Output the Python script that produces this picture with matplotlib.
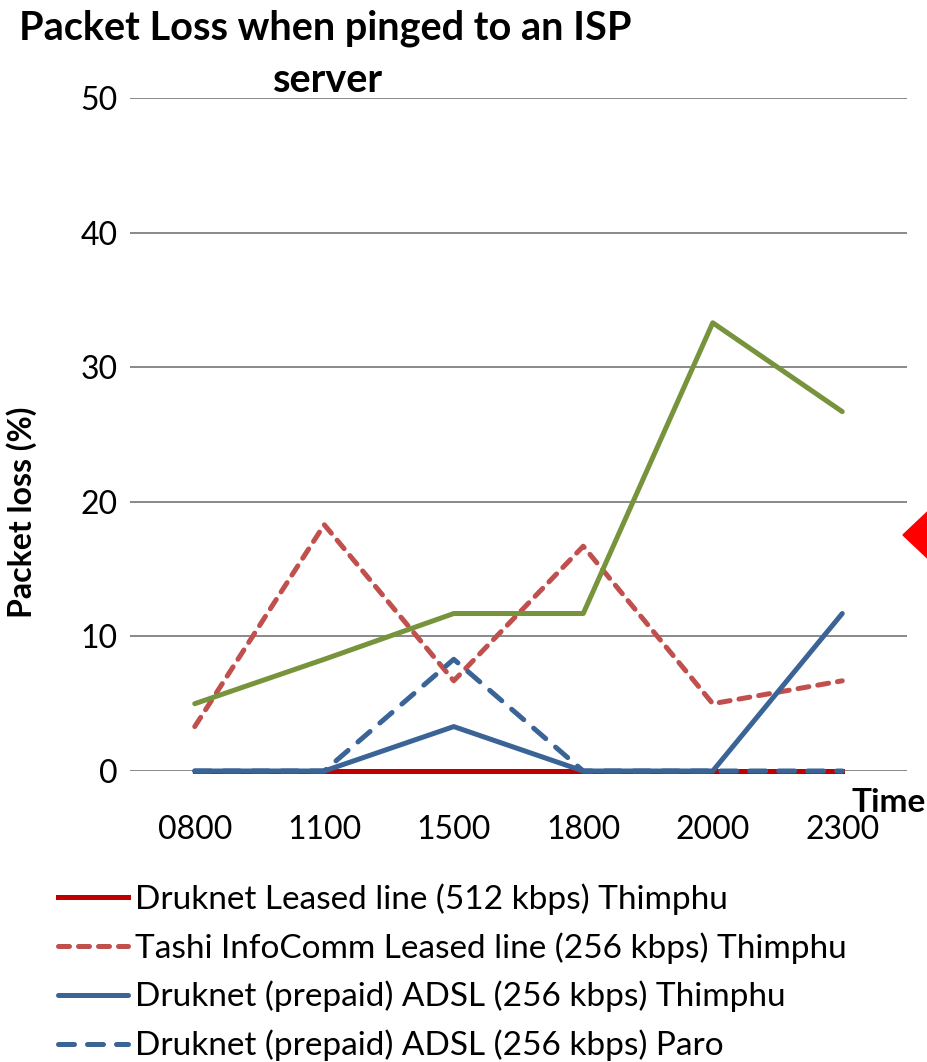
"""Packet loss chart"""

import matplotlib.pyplot as plt
from matplotlib.patches import Polygon

plt.rcParams['font.family'] = ['Lato', 'DejaVu Sans']

times = ['0800', '1100', '1500', '1800', '2000', '2300']
druknet_leased = [0, 0, 0, 0, 0, 0]
tashi_leased = [3.3, 18.3, 6.7, 16.7, 5.0, 6.7]
adsl_thimphu = [0, 0, 3.3, 0, 0, 11.7]
adsl_paro = [0, 0, 8.3, 0, 0, 0]
green_series = [5.0, 8.3, 11.7, 11.7, 33.3, 26.7]

labels = ['Druknet Leased line (512 kbps) Thimphu',
          'Tashi InfoComm Leased line (256 kbps) Thimphu',
          'Druknet (prepaid) ADSL (256 kbps) Thimphu',
          'Druknet (prepaid) ADSL (256 kbps) Paro']


def main():
    fig = plt.figure(figsize=(9.27, 10.62), dpi=100)
    ax = fig.add_axes([130/927, 1-771/1062, 777/927, 673/1062])

    x = range(len(times))
    lw = 3.6
    h1, = ax.plot(x, druknet_leased, color='#C00000', lw=lw, zorder=3,
                  clip_on=False)
    h2, = ax.plot(x, tashi_leased, color='#C0504D', lw=lw,
                  linestyle=(0, (2.2, 1.8)), dash_capstyle='round', zorder=4,
                  clip_on=False)
    h3, = ax.plot(x, adsl_thimphu, color='#3B6496', lw=lw,
                  solid_capstyle='round', zorder=5, clip_on=False)
    h4, = ax.plot(x, adsl_paro, color='#3B6496', lw=lw,
                  linestyle=(0, (3.2, 2.6)), dash_capstyle='round', zorder=6,
                  clip_on=False)
    ax.plot(x, green_series, color='#77933C', lw=lw,
            solid_capstyle='round', zorder=4, clip_on=False)

    ax.set_xlim(-0.5, 5.5)
    ax.set_ylim(0, 50)
    ax.set_yticks([0, 10, 20, 30, 40, 50])
    ax.set_xticks(list(x))
    ax.set_xticklabels(times)
    ax.tick_params(length=0, labelsize=23)
    ax.tick_params(axis='x', pad=32)
    ax.tick_params(axis='y', pad=9)
    ax.grid(axis='y', color='#898989', lw=1.4)
    ax.set_axisbelow(True)
    for s in ax.spines.values():
        s.set_visible(False)

    fig.text(22/927, 1-512/1062, 'Packet loss (%)', rotation=90,
             ha='center', va='center', fontsize=23, fontweight='bold')
    fig.text(851/927, 1-802/1062, 'Time', ha='left', va='center',
             fontsize=24, fontweight='bold')
    fig.text(325/927, 1-28/1062, 'Packet Loss when pinged to an ISP',
             ha='center', va='center', fontsize=28.5, fontweight='bold')
    fig.text(328/927, 1-80/1062, 'server',
             ha='center', va='center', fontsize=28.5, fontweight='bold')

    fig.legend([h1, h2, h3, h4], labels, loc='upper left',
               bbox_to_anchor=(58/927, 1-883/1062), frameon=False,
               fontsize=24, handlelength=2.1, handletextpad=0.2,
               labelspacing=0.52, borderaxespad=0, borderpad=0)

    tri = Polygon([(903/927, 1-535/1062), (940/927, 1-500/1062),
                   (940/927, 1-570/1062)], closed=True,
                  transform=fig.transFigure, color='#FF0000', clip_on=False)
    fig.patches.append(tri)

    fig.savefig('out.png', dpi=100)


if __name__ == "__main__":
    main()
